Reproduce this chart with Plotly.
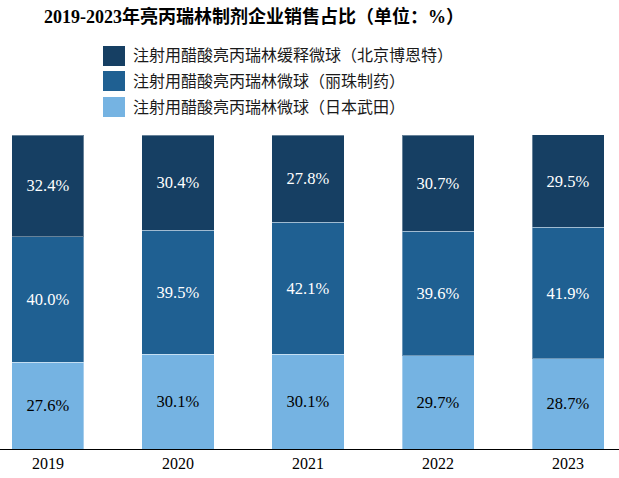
import plotly.graph_objects as go

years = ["2019", "2020", "2021", "2022", "2023"]
series_names = [
    "注射用醋酸亮丙瑞林缓释微球（北京博恩特）",
    "注射用醋酸亮丙瑞林微球（丽珠制药）",
    "注射用醋酸亮丙瑞林微球（日本武田）",
]
takeda = [27.6, 30.1, 30.1, 29.7, 28.7]
livzon = [40.0, 39.5, 42.1, 39.6, 41.9]
boente = [32.4, 30.4, 27.8, 30.7, 29.5]

colors = ["#163F63", "#1F6092", "#75B3E2"]
text_colors = ["white", "white", "black"]
SERIF = "Liberation Serif, Times New Roman, Noto Sans CJK SC, serif"

W, H = 619, 478
T, B = 135, 29
PLOT_TOP, PLOT_BOT = T, H - B
PH = PLOT_BOT - PLOT_TOP

fig = go.Figure()
stack = [(takeda, 2), (livzon, 1), (boente, 0)]
for vals, idx in stack:
    fig.add_trace(go.Bar(
        x=years, y=vals, name=series_names[idx],
        marker=dict(color=colors[idx], line=dict(color="rgba(255,255,255,0.35)", width=1)),
        text=[f"{v:.1f}%" for v in vals],
        textposition="inside", insidetextanchor="middle",
        textfont=dict(family=SERIF, size=16.5, color=text_colors[idx]),
        textangle=0,
        showlegend=False,
        hoverinfo="skip",
    ))

# manual legend (paper coords are relative to the plot area)
leg_y = [56, 81, 107]
for i, name in enumerate(series_names):
    yc = (PLOT_BOT - leg_y[i]) / PH
    fig.add_shape(type="rect", xref="paper", yref="paper",
                  x0=103 / W, x1=125 / W, y0=yc - 10 / PH, y1=yc + 10 / PH,
                  fillcolor=colors[i], line=dict(width=0))
    fig.add_annotation(xref="paper", yref="paper", x=131 / W, y=yc,
                       xanchor="left", yanchor="middle", showarrow=False,
                       text=name, font=dict(family=SERIF, size=16, color="#1a1a1a"))

fig.update_layout(
    barmode="stack",
    bargap=0.446,
    width=W, height=H,
    margin=dict(l=0, r=0, t=T, b=B),
    paper_bgcolor="white", plot_bgcolor="white",
    title=dict(text="<b>2019-2023年亮丙瑞林制剂企业销售占比（单位：%）</b>",
               x=254 / W, xanchor="center", y=1 - 17 / H, yanchor="middle",
               font=dict(family=SERIF, size=18, color="black")),
    xaxis=dict(type="category", range=[-0.369, 4.392], showline=True,
               linecolor="black", linewidth=1, ticks="", showgrid=False,
               tickfont=dict(family=SERIF, size=16, color="black")),
    yaxis=dict(range=[0, 100], visible=False, showgrid=False),
)

fig.write_html("out.html", config={"displayModeBar": False},
               post_script="document.body.style.margin='0';")
